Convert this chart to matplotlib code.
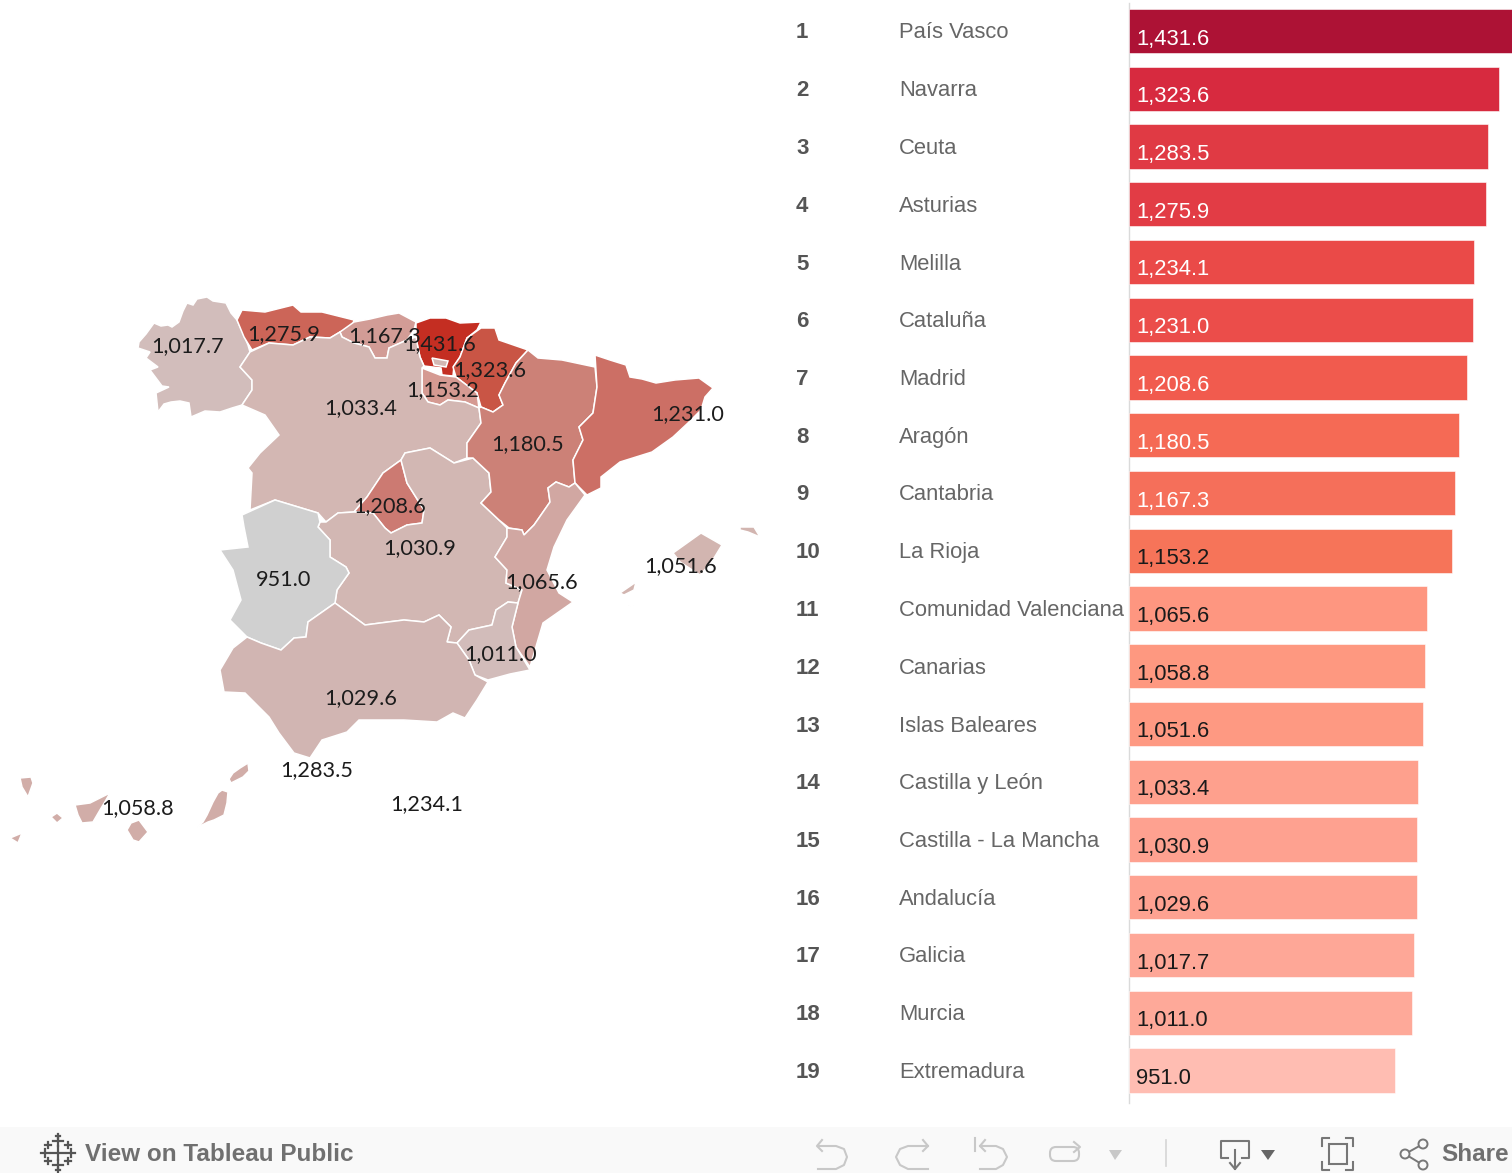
import matplotlib
matplotlib.use('Agg')
import matplotlib.pyplot as plt
from matplotlib.patches import Polygon, Circle, FancyBboxPatch, Rectangle

# Ranking table
ranks = list(range(1, 20))
regions = ['País Vasco', 'Navarra', 'Ceuta', 'Asturias', 'Melilla', 'Cataluña', 'Madrid', 'Aragón',
           'Cantabria', 'La Rioja', 'Comunidad Valenciana', 'Canarias', 'Islas Baleares',
           'Castilla y León', 'Castilla - La Mancha', 'Andalucía', 'Galicia', 'Murcia', 'Extremadura']
values = [1431.6, 1323.6, 1283.5, 1275.9, 1234.1, 1231.0, 1208.6, 1180.5, 1167.3, 1153.2,
          1065.6, 1058.8, 1051.6, 1033.4, 1030.9, 1029.6, 1017.7, 1011.0, 951.0]
bar_colors = ['#AD1235', '#D72A3F', '#E03A44', '#E23C45', '#EA4A48', '#EB4D4A', '#F15B4E', '#F56A55',
              '#F56F5A', '#F67459', '#FE9680', '#FE9880', '#FE9982', '#FEA08D', '#FEA190', '#FEA291',
              '#FEA797', '#FEA999', '#FFBDB2']
map_colors = ['#C42E22', '#C95545', None, '#CC6558', None, '#CC6F65', '#CC7A72', '#CC8177',
              '#D29C96', '#D59A92', '#D1A7A2', '#D1ADA8', '#D2B5B0',
              '#D3B7B3', '#D2B7B3', '#D1B5B2', '#D2BDBB', '#D2BCBA', '#D0D0D0']

# Map label anchors in image pixels
label_pos = {
    'País Vasco': (440, 344), 'Navarra': (490, 370), 'Ceuta': (317, 770), 'Asturias': (284, 334),
    'Melilla': (427, 804), 'Cataluña': (688, 414), 'Madrid': (390, 506), 'Aragón': (527, 444),
    'Cantabria': (385, 336), 'La Rioja': (443, 390), 'Comunidad Valenciana': (541, 582),
    'Canarias': (137, 808), 'Islas Baleares': (680, 566), 'Castilla y León': (361, 408),
    'Castilla - La Mancha': (420, 548), 'Andalucía': (361, 698), 'Galicia': (187, 346),
    'Murcia': (500, 654), 'Extremadura': (284, 580),
}

outlines = {
    'Galicia': [[(139, 342), (146, 334), (154, 323), (161, 326), (168, 325), (172, 327), (179, 322), (183, 311),
                 (187, 303), (193, 305), (197, 299), (207, 297), (213, 301), (226, 303), (231, 313), (237, 320),
                 (243, 333), (248, 345), (250, 352), (240, 367), (252, 380), (252, 390), (242, 405), (232, 408),
                 (220, 412), (205, 411), (191, 417), (189, 403), (180, 401), (171, 402), (164, 404), (158, 412),
                 (156, 393), (169, 387), (162, 386), (150, 370), (158, 367), (146, 358), (150, 352), (138, 348)]],
    'Asturias': [[(237, 320), (242, 310), (265, 312), (293, 305), (301, 312), (322, 312), (354, 320), (352, 327),
                  (340, 332), (330, 338), (310, 337), (293, 345), (269, 343), (252, 350), (244, 337)]],
    'Cantabria': [[(354, 322), (370, 319), (387, 315), (399, 313), (416, 322), (414, 330), (407, 340), (389, 348),
                   (387, 358), (375, 358), (369, 347), (354, 343), (342, 337), (340, 332)]],
    'País Vasco': [[(416, 323), (430, 318), (446, 318), (460, 323), (481, 322), (477, 330), (467, 338), (460, 357),
                    (454, 366), (453, 376), (442, 375), (441, 368), (424, 366), (420, 357), (418, 348),
                    (416, 337)]],
    'Navarra': [[(481, 328), (495, 328), (499, 340), (528, 350), (516, 363), (505, 383), (499, 395), (503, 405),
                 (493, 412), (481, 407), (477, 393), (456, 377), (453, 367), (460, 357), (467, 338)]],
    'La Rioja': [[(422, 368), (440, 375), (456, 377), (477, 393), (479, 408), (465, 402), (448, 400), (440, 405),
                  (428, 402), (422, 393)]],
    'Castilla y León': [[(250, 352), (269, 343), (293, 345), (310, 337), (330, 338), (340, 332), (342, 337),
                         (354, 343), (369, 347), (375, 358), (387, 358), (389, 348), (407, 340), (416, 337),
                         (418, 348), (420, 357), (424, 366), (422, 368), (422, 393), (428, 402), (440, 405),
                         (448, 400), (465, 402), (479, 408), (481, 423), (467, 443), (467, 458), (454, 463),
                         (430, 448), (405, 453), (401, 460), (383, 473), (367, 497), (354, 512), (338, 513),
                         (326, 522), (318, 513), (275, 500), (250, 510), (252, 473), (248, 468), (260, 453),
                         (279, 435), (265, 415), (242, 405), (252, 390), (252, 380), (240, 367)],
                        [(432, 358), (448, 361), (446, 367), (434, 365)]],
    'Madrid': [[(401, 460), (407, 483), (424, 510), (422, 523), (407, 525), (391, 533), (385, 528), (373, 513),
                (354, 512), (367, 497), (383, 473)]],
    'Castilla - La Mancha': [[(401, 460), (405, 453), (430, 448), (454, 463), (473, 458), (489, 473), (491, 492),
                              (481, 503), (499, 520), (507, 528), (507, 537), (495, 557), (507, 570), (506, 583),
                              (522, 590), (518, 603), (508, 602), (496, 610), (492, 625), (469, 630), (457, 643),
                              (447, 642), (451, 627), (439, 615), (424, 622), (404, 620), (388, 622), (365, 625),
                              (335, 603), (337, 590), (349, 573), (346, 567), (330, 557), (330, 540), (318, 527),
                              (320, 522), (326, 522), (338, 513), (354, 512), (373, 513), (385, 528), (391, 533),
                              (407, 525), (422, 523), (424, 510), (407, 483)]],
    'Aragón': [[(528, 350), (538, 358), (562, 360), (595, 367), (597, 387), (593, 413), (579, 427), (583, 440),
                (573, 460), (575, 483), (569, 487), (556, 482), (548, 488), (550, 502), (534, 525), (524, 535),
                (522, 530), (509, 528), (499, 520), (481, 503), (491, 492), (489, 473), (473, 458), (467, 458),
                (467, 443), (481, 423), (479, 408), (481, 407), (493, 412), (503, 405), (499, 395), (505, 383),
                (516, 363)]],
    'Cataluña': [[(595, 355), (610, 360), (626, 365), (630, 377), (642, 379), (656, 383), (675, 380), (699, 378),
                  (713, 388), (705, 397), (701, 410), (688, 423), (673, 437), (652, 452), (620, 462), (601, 477),
                  (601, 488), (587, 495), (575, 483), (573, 460), (583, 440), (579, 427), (593, 413), (597, 387)]],
    'Comunidad Valenciana': [[(556, 482), (569, 487), (575, 483), (585, 495), (567, 520), (554, 547), (547, 570),
                              (559, 593), (573, 602), (543, 623), (530, 667), (516, 647), (512, 627), (518, 603),
                              (522, 590), (506, 583), (507, 570), (495, 557), (507, 537), (507, 528), (522, 530),
                              (524, 535), (534, 525), (550, 502), (548, 488)]],
    'Murcia': [[(508, 602), (518, 603), (512, 627), (516, 647), (530, 670), (510, 674), (488, 680), (475, 675),
                (469, 660), (457, 643), (469, 630), (492, 625), (496, 610)]],
    'Extremadura': [[(242, 515), (275, 500), (318, 513), (320, 522), (318, 527), (330, 540), (330, 557), (346, 567),
                     (349, 573), (337, 590), (335, 603), (308, 622), (306, 637), (294, 638), (281, 650), (261, 643),
                     (247, 637), (230, 620), (241, 600), (233, 570), (220, 550), (248, 547), (244, 527)]],
    'Andalucía': [[(247, 637), (261, 643), (281, 650), (294, 638), (306, 637), (308, 622), (335, 603), (365, 625),
                   (388, 622), (404, 620), (424, 622), (439, 615), (451, 627), (447, 642), (457, 643), (469, 660),
                   (475, 675), (488, 682), (477, 700), (465, 718), (453, 713), (437, 722), (404, 720), (359, 720),
                   (347, 732), (322, 740), (310, 758), (294, 753), (279, 733), (269, 717), (245, 693), (224, 692),
                   (220, 670), (233, 648)]],
    'Islas Baleares': [[(673, 553), (701, 533), (722, 545), (711, 563), (700, 575), (680, 562)],
                       [(740, 527), (754, 527), (760, 537), (748, 532), (740, 530)],
                       [(620, 593), (636, 582), (634, 590), (624, 595)],
                       [(628, 605), (634, 605), (628, 607)]],
    'Canarias': [[(20, 778), (31, 777), (33, 783), (28, 797), (22, 787)],
                 [(51, 817), (57, 813), (63, 818), (57, 823)],
                 [(10, 838), (22, 833), (18, 843)],
                 [(75, 805), (90, 803), (100, 798), (110, 793), (106, 800), (100, 810), (93, 822), (82, 823), (78, 815)],
                 [(139, 820), (148, 832), (139, 842), (133, 840), (127, 830), (131, 823)],
                 [(222, 790), (228, 792), (227, 803), (224, 815), (214, 820), (208, 822), (196, 828), (203, 822),
                  (207, 815), (213, 802), (218, 793)],
                 [(248, 763), (249, 771), (243, 777), (231, 783), (229, 779), (233, 773), (240, 768)]],
}

W, H = 1512, 1173
fig = plt.figure(figsize=(W / 100, H / 100), dpi=100, facecolor='white')

# Full size axes in image pixels for the map and the toolbar
ax = fig.add_axes([0, 0, 1, 1])
ax.set_xlim(0, W)
ax.set_ylim(H, 0)
ax.axis('off')

for name, parts in outlines.items():
    color = map_colors[regions.index(name)]
    for part in parts:
        ax.add_patch(Polygon(part, closed=True, facecolor=color, edgecolor='white', linewidth=1.1))

for name, value in zip(regions, values):
    x, y = label_pos[name]
    ax.text(x, y, f'{value:,.1f}', ha='center', va='center', fontsize=15.6, family='Lato', color='#1c1c1c', zorder=5)

# Bars, with rank 1 on top; the first bar runs off the edge
bar_left, bar_right, bar_bottom = 1129, 1512, 1103
ax_bar = fig.add_axes([bar_left / W, 1 - bar_bottom / H, (bar_right - bar_left) / W, bar_bottom / H])
ax_bar.set_xlim(0, (bar_right - bar_left) / 0.2797)
ax_bar.set_ylim(1 + (bar_bottom - 31) / 57.75, 1 - 31 / 57.75)
ax_bar.axis('off')
ax_bar.patch.set_alpha(0)
ax_bar.barh(ranks, values, height=0.77, color=bar_colors, edgecolor='white', linewidth=0.4)

for rank, name, value in zip(ranks, regions, values):
    txt_color = 'white' if rank < 10 else '#1a1a1a'
    ax_bar.annotate(f'{value:,.1f}', (0, rank), xytext=(7, -8), textcoords='offset pixels', ha='left', va='center',
                    fontsize=15.8, family='Liberation Sans', color=txt_color)
    ax_bar.annotate(str(rank), (0, rank), xytext=(-333, -2), textcoords='offset pixels', ha='left', va='center',
                    fontsize=16, family='Liberation Sans', fontweight='bold', color='#555555', annotation_clip=False)
    ax_bar.annotate(name, (0, rank), xytext=(-230, -2), textcoords='offset pixels', ha='left', va='center',
                    fontsize=15.85, family='Liberation Sans', color='#666666', annotation_clip=False)

ax.plot([bar_left, bar_left], [3, bar_bottom], color='#DADADA', linewidth=1)

# Toolbar along the bottom
ax.add_patch(Rectangle((0, 1127), W, 46, facecolor='#F9F9F9', edgecolor='none', zorder=1))
ax.text(85, 1154.5, 'View on Tableau Public', ha='left', va='center', fontsize=17.5, family='Liberation Sans',
        fontweight='bold', color='#707070', zorder=3)
ax.text(1441, 1154.5, 'Share', ha='left', va='center', fontsize=17.5, family='Liberation Sans',
        fontweight='bold', color='#707070', zorder=3)

# Tableau logo crosses: centre, half size
for cx, cy, s in [(58, 1153, 7), (58, 1141, 5), (58, 1165, 5), (45, 1153, 4), (71, 1153, 4),
                  (48, 1145, 3), (68, 1145, 3), (48, 1161, 3), (68, 1161, 3), (58, 1136, 2), (58, 1170, 2)]:
    ax.plot([cx - s, cx + s], [cy, cy], color='#555555', linewidth=1.6, zorder=3)
    ax.plot([cx, cx], [cy - s, cy + s], color='#555555', linewidth=1.6, zorder=3)

light = '#C8C8C8'
dark = '#777777'
# undo, redo, revert
ax.plot([818, 836, 844, 847, 844, 836, 818], [1146, 1146, 1149, 1157, 1165, 1169, 1169], color=light, lw=1.5, zorder=3)
ax.plot([822, 817, 822], [1140, 1146, 1151], color=light, lw=1.5, zorder=3)
ax.plot([928, 908, 900, 896, 900, 908, 928], [1146, 1146, 1149, 1157, 1165, 1169, 1169], color=light, lw=1.5, zorder=3)
ax.plot([923, 928, 923], [1140, 1146, 1151], color=light, lw=1.5, zorder=3)
ax.plot([980, 996, 1003, 1007, 1003, 996, 980], [1146, 1146, 1149, 1157, 1165, 1169, 1169], color=light, lw=1.5, zorder=3)
ax.plot([985, 980, 985], [1140, 1146, 1151], color=light, lw=1.5, zorder=3)
ax.plot([975, 975], [1138, 1151], color=light, lw=1.5, zorder=3)
# refresh
ax.add_patch(FancyBboxPatch((1050, 1147), 29, 14, boxstyle='round,pad=0,rounding_size=6', facecolor='none',
                            edgecolor=light, linewidth=1.5, zorder=3))
ax.plot([1074, 1080, 1074], [1142, 1147, 1152], color=light, lw=1.5, zorder=3)
ax.add_patch(Polygon([(1109, 1150), (1122, 1150), (1115, 1160)], facecolor=light, edgecolor='none', zorder=3))
ax.plot([1166, 1166], [1140, 1166], color='#D5D5D5', lw=1.2, zorder=3)
# download
ax.plot([1228, 1221, 1221, 1249, 1249, 1242], [1158, 1158, 1141, 1141, 1158, 1158], color=dark, lw=1.5, zorder=3)
ax.plot([1235, 1235], [1150, 1169], color=dark, lw=1.5, zorder=3)
ax.plot([1230, 1235, 1240], [1163, 1169, 1163], color=dark, lw=1.5, zorder=3)
ax.add_patch(Polygon([(1261, 1150), (1275, 1150), (1268, 1160)], facecolor='#666666', edgecolor='none', zorder=3))
# fullscreen corners and inner box
ax.add_patch(Rectangle((1329, 1144), 18, 20, facecolor='none', edgecolor=dark, linewidth=1.5, zorder=3))
for xs, ys in [([1329, 1322, 1322], [1138, 1138, 1146]), ([1346, 1353, 1353], [1138, 1138, 1146]),
               ([1329, 1322, 1322], [1170, 1170, 1162]), ([1346, 1353, 1353], [1170, 1170, 1162])]:
    ax.plot(xs, ys, color=dark, lw=1.5, zorder=3)
# share
ax.plot([1423, 1405, 1423], [1144, 1154, 1165], color=dark, lw=1.4, zorder=3)
for cx, cy in [(1405, 1154), (1423, 1144), (1423, 1165)]:
    ax.add_patch(Circle((cx, cy), 4.5, facecolor='#F9F9F9', edgecolor=dark, linewidth=1.4, zorder=4))

fig.savefig('out.png', dpi=100)
